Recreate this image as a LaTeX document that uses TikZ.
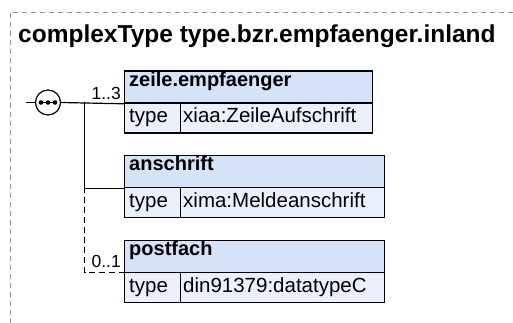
\documentclass[tikz,border=0pt]{standalone}
\usepackage{fontspec}
\setmainfont{Liberation Sans}
\usetikzlibrary{positioning}
\definecolor{hdrBlue}{RGB}{214,226,248}
\definecolor{cellBlue}{RGB}{234,241,252}
\definecolor{frameGray}{RGB}{150,150,150}
\tikzset{
  hdr/.style={draw, fill=hdrBlue, line width=1.3pt, anchor=north west, inner sep=0pt, minimum height=32pt},
  cell/.style={draw, fill=cellBlue, line width=1.3pt, anchor=north west, inner sep=0pt, minimum height=30pt},
  nametxt/.style={anchor=base west, inner sep=0pt, font=\fontsize{20}{22}\selectfont\bfseries},
  celltxt/.style={anchor=base west, inner sep=0pt, font=\fontsize{20.5}{22}\selectfont},
  cardtxt/.style={anchor=base east, inner sep=0pt, font=\fontsize{17.5}{19}\selectfont},
  conn/.style={line width=1.2pt},
}
\begin{document}
\begin{tikzpicture}[x=1pt,y=1pt]
        \useasboundingbox (0,0) rectangle (513,-323);
        % --- frame and title ---
        \draw[frameGray, dash pattern=on 5pt off 4pt] (513,-12) -- (10,-12) -- (10,-323);
        \node[anchor=base west, inner sep=0pt, font=\fontsize{24.5}{26}\selectfont\bfseries]
          (title) at (18,-43) {complexType type.bzr.empfaenger.inland};
        % --- sequence compositor ---
        \node[circle, draw, fill=white, line width=1.2pt, minimum size=25pt, inner sep=0pt]
          (seq) at (48,-102.5) {};
        \draw[line width=1pt] (41,-102.5) -- (55,-102.5);
        \fill (41,-102.5) circle (2.3pt) (48,-102.5) circle (2.3pt) (55,-102.5) circle (2.3pt);
        % --- element zeile.empfaenger ---
        \node[hdr, minimum width=248pt] (zeileHd) at (124,-70.5) {};
        \node[cell, minimum width=56pt] (zeileTy) at (124,-102.5) {};
        \node[cell, minimum width=192pt] (zeileVal) at (180,-102.5) {};
        \node[nametxt] (zeileName) at (129,-86.5) {zeile.empfaenger};
        \node[celltxt] at (129,-123) {type};
        \node[celltxt] at (183,-123) {xiaa:ZeileAufschrift};
        % --- element anschrift ---
        \node[hdr, minimum width=260pt] (anschriftHd) at (124,-155) {};
        \node[cell, minimum width=56pt] (anschriftTy) at (124,-187) {};
        \node[cell, minimum width=204pt] (anschriftVal) at (180,-187) {};
        \node[nametxt] (anschriftName) at (129,-170.5) {anschrift};
        \node[celltxt] at (129,-207) {type};
        \node[celltxt] at (183,-207) {xima:Meldeanschrift};
        % --- element postfach ---
        \node[hdr, minimum width=260pt] (postfachHd) at (124,-239.5) {};
        \node[cell, minimum width=56pt] (postfachTy) at (124,-271.5) {};
        \node[cell, minimum width=204pt] (postfachVal) at (180,-271.5) {};
        \node[nametxt] (postfachName) at (129,-255) {postfach};
        \node[celltxt] at (129,-292) {type};
        \node[celltxt] at (183,-292) {din91379:datatypeC};
        % --- connectors ---
        \coordinate (inStub) at (26,-102.5);
        \coordinate (jnA) at (84.5,-102.5);
        \coordinate (jnB) at (84.5,-187);
        \draw[conn] (inStub) -- (seq.west);
        \draw[conn] (seq.east) -- (zeileHd.south west);
        \draw[conn] (jnA) |- (anschriftHd.south west);
        \draw[conn, dash pattern=on 6pt off 4pt] (jnB) |- (postfachHd.south west);
        % cardinalities
        \node[cardtxt] at (121,-99.5) {1..3};
        \node[cardtxt] at (121,-267.5) {0..1};
      \end{tikzpicture}
\end{document}
